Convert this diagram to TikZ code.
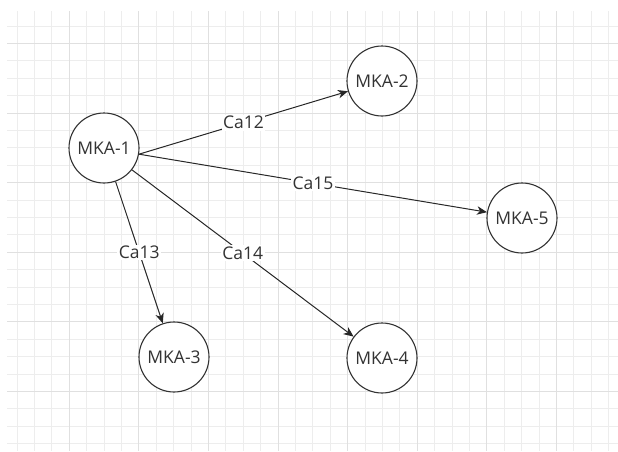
\documentclass[tikz,border=0pt]{standalone}
\usepackage{fontspec}
\setmainfont{Open Sans}
\usepackage{tikz}
\usetikzlibrary{shapes,arrows.meta}

\definecolor{gridminor}{RGB}{237,237,237}
\definecolor{gridmajor}{RGB}{224,224,224}
\definecolor{inkgray}{RGB}{51,51,51}

\tikzset{
  sat/.style={circle, draw=inkgray, line width=1.1pt, fill=white,
    minimum size=70pt, inner sep=0pt, text=inkgray,
    font=\fontsize{17.5}{20}\selectfont},
  link/.style={line width=1pt, draw=black!85, -{Stealth[length=10pt,width=8.5pt,inset=3pt]}},
  lbl/.style={fill=white, inner sep=1.5pt, text=inkgray,
    font=\fontsize{17.5}{20}\selectfont}
}

\begin{document}
\begin{tikzpicture}[x=1pt,y=-1pt]
  \useasboundingbox (0,0) rectangle (618,451);
  % background grid
  \foreach \i in {0,...,34}
    \draw[gridminor, line width=1pt] ({17+17.4*\i},11) -- ({17+17.4*\i},451);
  \foreach \j in {0,...,24}
    \draw[gridminor, line width=1pt] (7,{26+17.4*\j}) -- (618,{26+17.4*\j});
  \foreach \i in {3,7,...,31}
    \draw[gridmajor, line width=1pt] ({17+17.4*\i},11) -- ({17+17.4*\i},451);
  \foreach \j in {1,5,...,21}
    \draw[gridmajor, line width=1pt] (7,{26+17.4*\j}) -- (618,{26+17.4*\j});

  % satellites
  \node[sat] (mka1) at (104,148) {MKA-1};
  \node[sat] (mka2) at (382,81)  {MKA-2};
  \node[sat] (mka3) at (174,357) {MKA-3};
  \node[sat] (mka4) at (382,358) {MKA-4};
  \node[sat] (mka5) at (522,218) {MKA-5};

  % links
  \draw[link] (mka1.-10) -- node[lbl] {Ca12} (mka2);
  \draw[link] (mka1.-10) -- node[lbl] {Ca15} (mka5);
  \draw[link] (mka1.-71) -- node[lbl] {Ca13} (mka3);
  \draw[link] (mka1.-38) -- node[lbl] {Ca14} (mka4);
\end{tikzpicture}
\end{document}
